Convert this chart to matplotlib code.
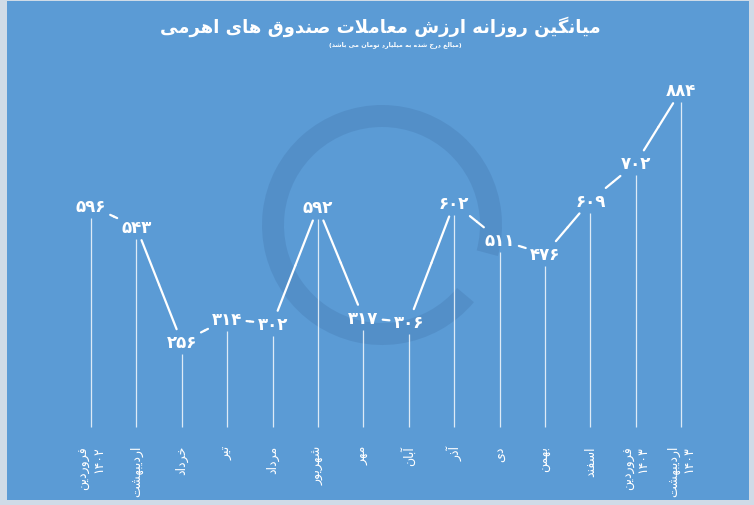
import matplotlib
matplotlib.use("Agg")
import matplotlib.pyplot as plt
from matplotlib.patches import Rectangle, Wedge

# data
months = ['فروردین\n۱۴۰۲', 'اردیبهشت', 'خرداد', 'تیر', 'مرداد', 'شهریور', 'مهر',
          'آبان', 'آذر', 'دی', 'بهمن', 'اسفند', 'فروردین\n۱۴۰۳', 'اردیبهشت\n۱۴۰۳']
values = [596, 543, 256, 314, 302, 592, 317, 306, 602, 511, 476, 609, 702, 884]
title = 'میانگین روزانه ارزش معاملات صندوق های اهرمی'
subtitle = '(مبالغ درج شده به میلیارد تومان می باشد)'

bg = '#5b9bd5'

# --- minimal Persian shaping (matplotlib has no complex text layout) ---
FORMS = {
    'ا': (0xFE8D, 0xFE8E), 'آ': (0xFE81, 0xFE82), 'د': (0xFEA9, 0xFEAA),
    'ذ': (0xFEAB, 0xFEAC), 'ر': (0xFEAD, 0xFEAE), 'ز': (0xFEAF, 0xFEB0),
    'و': (0xFEED, 0xFEEE),
    'ب': (0xFE8F, 0xFE90, 0xFE91, 0xFE92), 'ت': (0xFE95, 0xFE96, 0xFE97, 0xFE98),
    'ج': (0xFE9D, 0xFE9E, 0xFE9F, 0xFEA0), 'خ': (0xFEA5, 0xFEA6, 0xFEA7, 0xFEA8),
    'س': (0xFEB1, 0xFEB2, 0xFEB3, 0xFEB4), 'ش': (0xFEB5, 0xFEB6, 0xFEB7, 0xFEB8),
    'ص': (0xFEB9, 0xFEBA, 0xFEBB, 0xFEBC), 'ع': (0xFEC9, 0xFECA, 0xFECB, 0xFECC),
    'غ': (0xFECD, 0xFECE, 0xFECF, 0xFED0), 'ف': (0xFED1, 0xFED2, 0xFED3, 0xFED4),
    'ق': (0xFED5, 0xFED6, 0xFED7, 0xFED8), 'ل': (0xFEDD, 0xFEDE, 0xFEDF, 0xFEE0),
    'م': (0xFEE1, 0xFEE2, 0xFEE3, 0xFEE4), 'ن': (0xFEE5, 0xFEE6, 0xFEE7, 0xFEE8),
    'ه': (0xFEE9, 0xFEEA, 0xFEEB, 0xFEEC), 'ی': (0xFBFC, 0xFBFD, 0xFBFE, 0xFBFF),
    'گ': (0xFB92, 0xFB93, 0xFB94, 0xFB95),
}
LAM_ALEF = {'ا': (0xFEFB, 0xFEFC), 'آ': (0xFEF5, 0xFEF6)}


def dual(c):
    return c in FORMS and len(FORMS[c]) == 4


def shape_line(s):
    out = []
    i = 0
    while i < len(s):
        c = s[i]
        prev = s[i - 1] if i > 0 else ''
        join_prev = dual(prev) and c in FORMS
        if c == 'ل' and i + 1 < len(s) and s[i + 1] in LAM_ALEF:
            f = LAM_ALEF[s[i + 1]]
            out.append(chr(f[1] if join_prev else f[0]))
            i += 2
            continue
        if c in FORMS:
            f = FORMS[c]
            nxt = s[i + 1] if i + 1 < len(s) else ''
            join_next = dual(c) and nxt in FORMS
            if join_prev and join_next:
                out.append(chr(f[3]))
            elif join_next:
                out.append(chr(f[2]))
            elif join_prev:
                out.append(chr(f[1]))
            else:
                out.append(chr(f[0]))
        else:
            out.append(c)
        i += 1
    # visual order: reverse, keep digit runs left-to-right, mirror brackets
    res, run = [], ''
    for ch in reversed(out):
        if '۰' <= ch <= '۹':
            run = ch + run
        else:
            res.append(run)
            run = ''
            res.append({'(': ')', ')': '('}.get(ch, ch))
    res.append(run)
    return ''.join(res)


def fa(s):
    return '\n'.join(shape_line(line) for line in s.split('\n'))


def fa_num(n):
    return str(n).translate(str.maketrans('0123456789', '۰۱۲۳۴۵۶۷۸۹'))


plt.rcParams['font.family'] = ['DejaVu Sans']

fig = plt.figure(figsize=(7.54, 5.06), dpi=100, facecolor='#cfdbe7')
fig.patches.append(Rectangle((7 / 754, 5 / 506), 742 / 754, 499 / 506,
                             transform=fig.transFigure, facecolor=bg,
                             edgecolor='none', zorder=0))

# faint logo ring in the background
wm = fig.add_axes([0, 0, 1, 1], zorder=1)
wm.set_xlim(0, 754)
wm.set_ylim(506, 0)
wm.axis('off')
wm.add_patch(Wedge((382, 226), 120, 40, 375, width=22,
                   facecolor='#1e3c6e', alpha=0.12, edgecolor='none'))

ax = fig.add_axes([0, 0, 1, 1], zorder=2)
ax.patch.set_alpha(0)
ax.axis('off')
n = len(values)
ax.set_xlim(-2.004, 14.604)
ax.set_ylim(-149.5, 1111.4)

xs = list(range(n))
for i in range(n):
    ax.vlines(xs[i], 45, values[i] - 30, color='white', lw=0.9, alpha=0.8)

for i in range(n):
    ax.text(xs[i], values[i], fa_num(values[i]), ha='center', va='center',
            color='white', fontsize=12, fontweight='bold')
    # half segments towards neighbours, clipped by the label box
    for j in (i - 1, i + 1):
        if 0 <= j < n:
            mid = ((xs[i] + xs[j]) / 2, (values[i] + values[j]) / 2)
            ax.annotate(fa_num(values[i]), xy=mid, xytext=(xs[i], values[i]),
                        ha='center', va='center', color=(0, 0, 0, 0),
                        fontsize=12, fontweight='bold',
                        arrowprops=dict(arrowstyle='-', color='white', lw=1.6,
                                        shrinkA=1, shrinkB=0))

for i in range(n):
    ax.text(xs[i], 0, fa(months[i]), rotation=90, ha='center', va='top',
            multialignment='right', color='white', fontsize=9,
            rotation_mode='default')

fig.text(0.505, 1 - 27 / 506, fa(title), ha='center', va='center',
         color='white', fontsize=13, fontweight='bold')
fig.text(395 / 754, 1 - 45 / 506, fa(subtitle), ha='center', va='center',
         color='white', fontsize=4.6, fontweight='bold')

fig.savefig('out.png', dpi=100, facecolor=fig.get_facecolor())
